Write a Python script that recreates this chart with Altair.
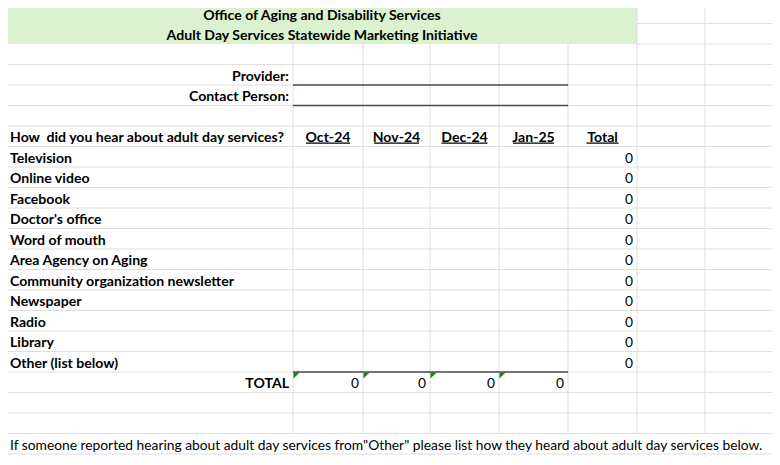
import altair as alt
import pandas as pd

# ---------------- data ----------------
title_lines = ["Office of Aging and Disability Services",
               "Adult Day Services Statewide Marketing Initiative"]
form_labels = ["Provider:", "Contact Person:"]
question = "How \u00a0did you hear about adult day services?"
months = ["Oct-24", "Nov-24", "Dec-24", "Jan-25"]
total_header = "Total"
sources = ["Television", "Online video", "Facebook", "Doctor's office",
           "Word of mouth", "Area Agency on Aging",
           "Community organization newsletter", "Newspaper", "Radio",
           "Library", "Other (list below)"]
source_totals = [0, 0, 0, 0, 0, 0, 0, 0, 0, 0, 0]
total_label = "TOTAL"
month_totals = [0, 0, 0, 0]
note = ('If someone reported hearing about adult day services from"Other" '
        'please list how they heard about adult day services below.')

# ---------------- layout (sheet grid) ----------------
COL_EDGES = [7, 293, 363, 430, 499, 568, 637, 705, 777]   # column boundaries (px)
ROW_TOP, ROW_H = 3, 20.5                                    # sheet row geometry
VIEW_X = [8, 772]
VIEW_Y = [8, 457]
N_ROWS_END = (VIEW_Y[1] - ROW_TOP) / ROW_H

FONT = "Lato"
FS = 13.8
FS_BOLD = 14.1
GRID = "#DEDEDE"
BORDER = "#4A4A4A"
GREEN_FILL = "#DAF2D0"
FLAG = "#1E7B1E"

xs = alt.Scale(domain=VIEW_X, nice=False, zero=False)
ys = alt.Scale(domain=[(VIEW_Y[0] - ROW_TOP) / ROW_H, N_ROWS_END],
               nice=False, zero=False, reverse=True)


def enc_rule():
    return dict(x=alt.X("x:Q", scale=xs, axis=None), x2="x2:Q",
                y=alt.Y("y:Q", scale=ys, axis=None), y2="y2:Q")


def col_left(c):
    return COL_EDGES[c]


def col_right(c):
    return COL_EDGES[c + 1]


def col_center(c):
    return (COL_EDGES[c] + COL_EDGES[c + 1]) / 2


# background fill of the title block (A1:F2)
fill_df = pd.DataFrame([dict(x=COL_EDGES[0], x2=COL_EDGES[6], y=0, y2=2)])
fill = alt.Chart(fill_df).mark_rect(color=GREEN_FILL, clip=True).encode(**enc_rule())

# gridlines
grid_rows = []
for r in range(1, 23):
    x0 = COL_EDGES[6] if r <= 2 else COL_EDGES[0]
    grid_rows.append(dict(x=x0, x2=VIEW_X[1], y=r, y2=r))
for i, e in enumerate(COL_EDGES[1:], start=1):
    top = 0 if i >= 6 else 2
    if i == len(COL_EDGES) - 1:
        grid_rows.append(dict(x=e, x2=e, y=top, y2=N_ROWS_END))
    else:
        grid_rows.append(dict(x=e, x2=e, y=top, y2=21))
        grid_rows.append(dict(x=e, x2=e, y=22, y2=N_ROWS_END))
grid = alt.Chart(pd.DataFrame(grid_rows)).mark_rule(
    color=GRID, strokeWidth=1, clip=True).encode(**enc_rule())

# cell borders (input lines and TOTAL row top)
border_df = pd.DataFrame([
    dict(x=COL_EDGES[1], x2=COL_EDGES[5], y=4, y2=4),
    dict(x=COL_EDGES[1], x2=COL_EDGES[5], y=5, y2=5),
    dict(x=COL_EDGES[1], x2=COL_EDGES[5], y=18, y2=18),
])
borders = alt.Chart(border_df).mark_rule(
    color=BORDER, strokeWidth=1.5, clip=True).encode(**enc_rule())

# green error-indicator flags on TOTAL cells
flag_df = pd.DataFrame([dict(x=col_left(c), y=18) for c in range(1, 5)])
flags = alt.Chart(flag_df).mark_point(
    shape="M0,0 L2,0 L0,2 Z", size=36, filled=True, color=FLAG, opacity=1,
    strokeWidth=0, xOffset=0.5, yOffset=0.5
).encode(x=alt.X("x:Q", scale=xs, axis=None), y=alt.Y("y:Q", scale=ys, axis=None))


# texts (row = bottom edge of the cell's row, in row units)
def text_layer(rows, align, weight, dx=0, dy=-4.5):
    df = pd.DataFrame(rows)
    return alt.Chart(df).mark_text(
        font=FONT, fontSize=FS_BOLD if weight == "bold" else FS,
        fontWeight=weight, align=align,
        baseline="alphabetic", dy=dy, dx=dx, color="#000000"
    ).encode(x=alt.X("x:Q", scale=xs, axis=None),
             y=alt.Y("row:Q", scale=ys, axis=None),
             text="t:N")


title_center = (COL_EDGES[0] + COL_EDGES[6]) / 2
t_title1 = text_layer([dict(x=title_center, row=1, t=title_lines[0])],
                      "center", "bold", dy=-3.5)
t_title2 = text_layer([dict(x=title_center, row=2, t=title_lines[1])],
                      "center", "bold")

t_right_bold = text_layer(
    [dict(x=col_right(0), row=4 + i, t=s) for i, s in enumerate(form_labels)]
    + [dict(x=col_right(0), row=19, t=total_label)], "right", "bold", dx=-4)

t_left_bold = text_layer(
    [dict(x=col_left(0), row=7, t=question)]
    + [dict(x=col_left(0), row=8 + i, t=s) for i, s in enumerate(sources)],
    "left", "bold", dx=3)

headers = months + [total_header]
t_headers = text_layer([dict(x=col_center(1 + i), row=7, t=s)
                        for i, s in enumerate(headers)], "center", "bold")

# underlines beneath header labels
UL_W = [44, 45, 46, 41, 32]
ul_df = pd.DataFrame([dict(x=col_center(1 + i) - w / 2, x2=col_center(1 + i) + w / 2,
                           y=7 - 3.4 / ROW_H, y2=7 - 3.4 / ROW_H)
                      for i, w in enumerate(UL_W)])
underlines = alt.Chart(ul_df).mark_rule(color="#000000", strokeWidth=1.2).encode(**enc_rule())

t_right_num = text_layer(
    [dict(x=col_right(5), row=8 + i, t=str(v)) for i, v in enumerate(source_totals)]
    + [dict(x=col_right(1 + i), row=19, t=str(v)) for i, v in enumerate(month_totals)],
    "right", "normal", dx=-4)

t_note = text_layer([dict(x=col_left(0), row=22, t=note)], "left", "normal", dx=3)

chart = alt.layer(
    fill, grid, borders, flags, underlines,
    t_title1, t_title2, t_right_bold, t_left_bold, t_headers, t_right_num, t_note
).properties(
    width=VIEW_X[1] - VIEW_X[0], height=VIEW_Y[1] - VIEW_Y[0], padding=0,
    autosize=alt.AutoSizeParams(type="none")
).configure_view(stroke=None)

chart.save("out.html", embed_options={"renderer": "svg", "actions": False})
